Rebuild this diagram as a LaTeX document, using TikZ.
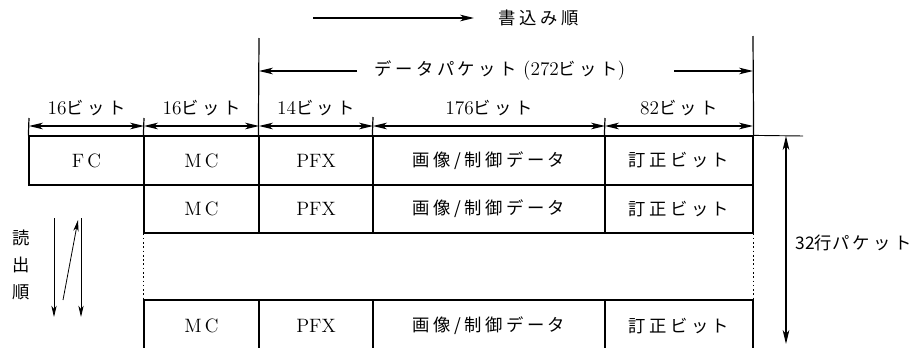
\documentclass[tikz,border=0pt]{standalone}
\usepackage{fontspec}
\newfontfamily\jp[LetterSpace=20]{Noto Sans CJK JP}
\newfontfamily\jpn{Noto Sans CJK JP}
\usetikzlibrary{arrows.meta}
\usetikzlibrary{positioning}

\begin{document}
\begin{tikzpicture}[x=0.75pt,y=-0.75pt,
  font=\fontsize{14.5}{16}\selectfont\addfontfeature{FakeBold=0.6},
  cellbox/.style={draw, line width=0.9pt, inner sep=0pt},
  jtext/.style={font=\fontsize{13}{15}\selectfont\jp},
  dimarrow/.style={{Stealth[length=10.5pt,width=5pt,inset=3pt]}-{Stealth[length=10.5pt,width=5pt,inset=3pt]}, line width=0.8pt},
  onearrow/.style={-{Stealth[length=10.5pt,width=5pt,inset=3pt]}, line width=0.8pt},
  readarrow/.style={-{Stealth[length=8.5pt,width=4pt,inset=2.5pt]}, line width=0.6pt}]
\useasboundingbox (0,0) rectangle (922,347);

% first row, with FC
\node[cellbox, minimum width=86.25pt, minimum height=36.75pt] (fc1) at (86.5,160.5) {F\,C};
\node[cellbox, minimum width=86.25pt, minimum height=36.75pt] (mc1) at (201.5,160.5) {M\,C};
\node[cellbox, minimum width=85.5pt, minimum height=36.75pt] (pfx1) at (316,160.5) {PFX};
\node[cellbox, jtext, minimum width=174pt, minimum height=36.75pt] (dat1) at (489,160.5) {画像/制御データ};
\node[cellbox, jtext, minimum width=111pt, minimum height=36.75pt] (cor1) at (679,160.5) {訂正ビット};
% second row
\node[cellbox, minimum width=86.25pt, minimum height=36pt] (mc2) at (201.5,209) {M\,C};
\node[cellbox, minimum width=85.5pt, minimum height=36pt] (pfx2) at (316,209) {PFX};
\node[cellbox, jtext, minimum width=174pt, minimum height=36pt] (dat2) at (489,209) {画像/制御データ};
\node[cellbox, jtext, minimum width=111pt, minimum height=36pt] (cor2) at (679,209) {訂正ビット};
% last row
\node[cellbox, minimum width=86.25pt, minimum height=39pt] (mc3) at (201.5,326) {M\,C};
\node[cellbox, minimum width=85.5pt, minimum height=39pt] (pfx3) at (316,326) {PFX};
\node[cellbox, jtext, minimum width=174pt, minimum height=39pt] (dat3) at (489,326) {画像/制御データ};
\node[cellbox, jtext, minimum width=111pt, minimum height=39pt] (cor3) at (679,326) {訂正ビット};
\draw[dotted, line width=1.2pt] (mc2.south west) -- (mc3.north west);
\draw[dotted, line width=1.2pt] (cor2.south east) -- (cor3.north east);

% ticks above the columns
\coordinate (k0) at (29,118);
\coordinate (k1) at (144,118);
\coordinate (k2) at (259,38);
\coordinate (k3) at (373,117);
\coordinate (k4) at (605,118);
\coordinate (k5) at (753,36);
\coordinate (ext) at (803,136);
\draw[line width=0.9pt] (fc1.north west) -- (k0);
\draw[line width=0.9pt] (mc1.north west) -- (k1);
\draw[line width=0.9pt] (pfx1.north west) -- (k2);
\draw[line width=0.9pt] (dat1.north west) -- (k3);
\draw[line width=0.9pt] (cor1.north west) -- (k4);
\draw[line width=0.9pt] (cor1.north east) -- (k5);
\draw[line width=0.7pt] (cor1.north east) -- (ext);

% bit widths
\coordinate (d0) at (29,126);
\coordinate (d1) at (144,126);
\coordinate (d2) at (259,126);
\coordinate (d3) at (373,126);
\coordinate (d4) at (605,126);
\coordinate (d5) at (753,126);
\draw[dimarrow] (d0) -- (d1);
\draw[dimarrow] (d1) -- (d2);
\draw[dimarrow] (d2) -- (d3);
\draw[dimarrow] (d3) -- (d4);
\draw[dimarrow] (d4) -- (d5);
\node (b1) at (86.5,108) {16{\jp\fontsize{13}{15}\selectfont ビット}};
\node (b2) at (201.5,108) {16{\jp\fontsize{13}{15}\selectfont ビット}};
\node (b3) at (316,108) {14{\jp\fontsize{13}{15}\selectfont ビット}};
\node (b4) at (489,108) {176{\jp\fontsize{13}{15}\selectfont ビット}};
\node (b5) at (679,108) {82{\jp\fontsize{13}{15}\selectfont ビット}};

% data packet
\node (pkt) at (500,71) {{\jp\fontsize{13}{15}\selectfont データパケット} (272{\jp\fontsize{13}{15}\selectfont ビット})};
\coordinate (pl) at (357,71);
\coordinate (pr) at (674,71);
\draw[onearrow] (pl) -- (k2 |- pl);
\draw[onearrow] (pr) -- (k5 |- pr);

% write order
\coordinate (wa) at (313,18);
\coordinate (wb) at (474,18);
\draw[onearrow] (wa) -- (wb);
\node[jtext, anchor=west] (wr) at (494,18) {書込み順};

% 32 rows
\coordinate (ra) at (786,136);
\coordinate (rb) at (786,344);
\draw[dimarrow] (ra) -- (rb);
\node[jtext, anchor=west, inner sep=1pt] (rows) at (794,243) {{\jpn 32行}パケット};

% read order
\node[align=center, font=\fontsize{13}{20.5}\selectfont\jp] (rd) at (21,265) {読\\出\\順};
\coordinate (ua) at (54,218);
\coordinate (ub) at (54,317);
\coordinate (va) at (63,300);
\coordinate (vb) at (78,220);
\coordinate (xa) at (81,218);
\coordinate (xb) at (81,317);
\draw[readarrow] (ua) -- (ub);
\draw[readarrow] (va) -- (vb);
\draw[readarrow] (xa) -- (xb);
\end{tikzpicture}
\end{document}
